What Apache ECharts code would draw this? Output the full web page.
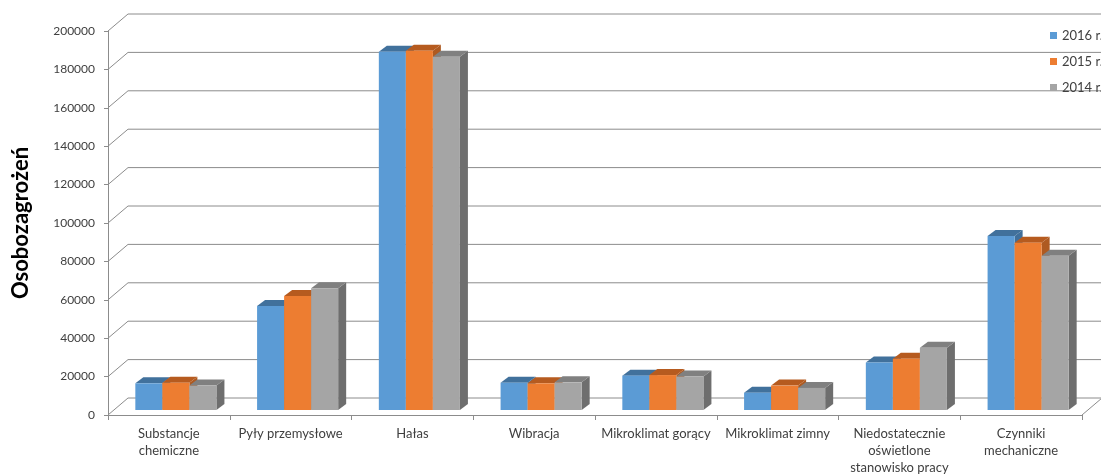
<!DOCTYPE html>
<html>
<head>
<meta charset="utf-8">
<script src="https://cdn.jsdelivr.net/npm/echarts@6/dist/echarts.min.js"></script>
<style>
  html, body { margin: 0; padding: 0; background: #ffffff; }
  #chart { width: 1101px; height: 474px; }
</style>
</head>
<body>
<div id="chart"></div>
<script>
// Categories of occupational hazards
const categories = [
  'Substancje\nchemiczne',
  'Pyły przemysłowe',
  'Hałas',
  'Wibracja',
  'Mikroklimat gorący',
  'Mikroklimat zimny',
  'Niedostatecznie\noświetlone\nstanowisko pracy',
  'Czynniki\nmechaniczne'
];

// Number of person-hazards per year
const values2016 = [13900, 54200, 186600, 14200, 17900, 9000, 24800, 90600];
const values2015 = [14200, 59400, 187100, 13900, 18200, 12700, 26700, 87100];
const values2014 = [12700, 63400, 184000, 14400, 17400, 11500, 32400, 80400];

const seriesNames = ['2016 r.', '2015 r.', '2014 r.'];

// Value axis ticks
const yTicks = [0, 20000, 40000, 60000, 80000, 100000, 120000, 140000, 160000, 180000, 200000];

// Pseudo-3D projection settings (pixels)
const WALL_DX = 20, WALL_DY = -17;   // depth of the back wall
const FRONT_DX = 7, FRONT_DY = -5;   // where bar fronts sit inside the depth
const BAR_DX = 8, BAR_DY = -6;       // depth of each bar
const BAR_FRAC = 0.222;              // bar width as share of a category band
const GRID_COLOR = '#8c8c8c';
const FONT = 'Lato, "Open Sans", "Liberation Sans", sans-serif';

const palette = [
  { front: '#5b9bd5', top: '#41719c', side: '#3f6f9b' },
  { front: '#ed7d31', top: '#b65b1f', side: '#ae5a21' },
  { front: '#a5a5a5', top: '#808080', side: '#6e6e6e' }
];

// Back wall grid lines plus the diagonal on the left wall for each tick
function renderGrid(params, api) {
  const cs = params.coordSys;
  const v = api.value(1);
  const p = api.coord([0, v]);
  const y = p[1];
  const children = [
    { type: 'line', shape: { x1: cs.x, y1: y, x2: cs.x + WALL_DX, y2: y + WALL_DY },
      style: { stroke: GRID_COLOR, lineWidth: 1 } },
    { type: 'line', shape: { x1: cs.x + WALL_DX, y1: y + WALL_DY, x2: cs.x + cs.width + WALL_DX, y2: y + WALL_DY },
      style: { stroke: GRID_COLOR, lineWidth: 1 } }
  ];
  if (v === 0) {
    children.push({ type: 'line',
      shape: { x1: cs.x + cs.width, y1: y, x2: cs.x + cs.width + WALL_DX, y2: y + WALL_DY },
      style: { stroke: GRID_COLOR, lineWidth: 1 } });
  }
  return { type: 'group', children: children };
}

function barRenderer(slot) {
  const c = palette[slot];
  return function (params, api) {
    const idx = api.value(0);
    const val = api.value(1);
    const base = api.coord([idx, 0]);
    const top = api.coord([idx, val]);
    const band = api.size([1, 0])[0];
    const w = band * BAR_FRAC;
    const x0 = base[0] - 1.5 * w + slot * w + FRONT_DX;
    const yb = base[1] + FRONT_DY;
    const yt = top[1] + FRONT_DY;
    return {
      type: 'group',
      children: [
        { type: 'polygon',
          shape: { points: [[x0 + w, yt], [x0 + w + BAR_DX, yt + BAR_DY], [x0 + w + BAR_DX, yb + BAR_DY], [x0 + w, yb]] },
          style: { fill: c.side } },
        { type: 'polygon',
          shape: { points: [[x0, yt], [x0 + w, yt], [x0 + w + BAR_DX, yt + BAR_DY], [x0 + BAR_DX, yt + BAR_DY]] },
          style: { fill: c.top } },
        { type: 'rect', shape: { x: x0, y: yt, width: w, height: yb - yt },
          style: { fill: c.front } }
      ]
    };
  };
}

function toPoints(arr) {
  return arr.map(function (v, i) { return [i, v]; });
}

const yearValues = [values2016, values2015, values2014];

const chart = echarts.init(document.getElementById('chart'), null, { renderer: 'canvas' });

const option = {
  animation: false,
  backgroundColor: '#ffffff',
  textStyle: { fontFamily: FONT },
  grid: { left: 108, right: 19, top: 31, bottom: 59, containLabel: false, outerBoundsMode: 'none' },
  legend: {
    data: seriesNames,
    orient: 'vertical',
    left: 1045,
    top: 24,
    itemWidth: 7,
    itemHeight: 7,
    itemGap: 13,
    icon: 'rect',
    textStyle: { fontFamily: FONT, fontSize: 13, color: '#404040' }
  },
  xAxis: {
    type: 'category',
    data: categories,
    axisLine: { show: true, lineStyle: { color: GRID_COLOR, width: 1 } },
    axisTick: { show: true, length: 5, lineStyle: { color: GRID_COLOR } },
    axisLabel: { interval: 0, fontFamily: FONT, fontSize: 13, color: '#404040', lineHeight: 17, margin: 10 },
    splitLine: { show: false }
  },
  yAxis: {
    type: 'value',
    min: 0,
    max: 200000,
    interval: 20000,
    name: 'Osobozagrożeń',
    nameLocation: 'middle',
    nameGap: 76,
    nameRotate: 90,
    nameTextStyle: { fontFamily: FONT, fontSize: 22, fontWeight: 'bold', color: '#000000' },
    axisLine: { show: true, lineStyle: { color: GRID_COLOR, width: 1 } },
    axisTick: { show: true, length: 4, lineStyle: { color: GRID_COLOR } },
    axisLabel: {
      fontFamily: FONT, fontSize: 12, color: '#404040', margin: 13,
      formatter: function (v) { return String(v); }
    },
    splitLine: { show: false }
  },
  series: [
    {
      type: 'custom',
      name: 'grid3d',
      silent: true,
      z: 1,
      renderItem: renderGrid,
      data: yTicks.map(function (v) { return [0, v]; })
    }
  ].concat(seriesNames.map(function (name, i) {
    return {
      type: 'custom',
      name: name,
      z: 2 + i,
      itemStyle: { color: palette[i].front },
      renderItem: barRenderer(i),
      encode: { x: 0, y: 1 },
      data: toPoints(yearValues[i])
    };
  }))
};

chart.setOption(option);
</script>
</body>
</html>
